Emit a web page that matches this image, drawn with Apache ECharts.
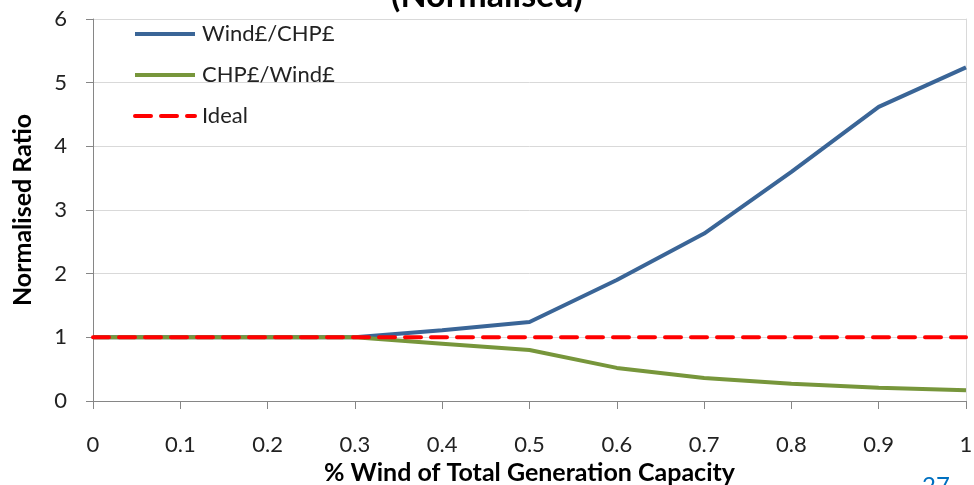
<!DOCTYPE html>
<html>
<head>
<meta charset="utf-8">
<script src="https://cdn.jsdelivr.net/npm/echarts@6/dist/echarts.min.js"></script>
<style>
html,body{margin:0;padding:0;background:#fff;}
#c{width:974px;height:485px;}
</style>
</head>
<body>
<div id="c"></div>
<script>
const xValues = [0, 0.1, 0.2, 0.3, 0.4, 0.5, 0.6, 0.7, 0.8, 0.9, 1];
const windOverChp = [1, 1, 1, 1, 1.11, 1.24, 1.9, 2.63, 3.6, 4.62, 5.24];
const chpOverWind = [1, 1, 1, 1, 0.9, 0.8, 0.52, 0.36, 0.27, 0.21, 0.17];
const ideal = [1, 1, 1, 1, 1, 1, 1, 1, 1, 1, 1];
const seriesNames = ['Wind£/CHP£', 'CHP£/Wind£', 'Ideal'];

const font = 'Lato, "Open Sans", "Liberation Sans", sans-serif';
const pair = (ys) => xValues.map((x, i) => [x, ys[i]]);

const chart = echarts.init(document.getElementById('c'), null, {renderer: 'canvas'});
chart.setOption({
  animation: false,
  backgroundColor: '#fff',
  textStyle: {fontFamily: font},
  title: {
    text: '(Normalised)',
    left: 'center',
    top: -26,
    textStyle: {fontFamily: font, fontSize: 34, fontWeight: 'bold', color: '#000'}
  },
  grid: {left: 93, right: 8, top: 19, bottom: 84, containLabel: false, outerBoundsMode: 'none'},
  legend: {
    orient: 'vertical',
    left: 128,
    top: 18,
    itemWidth: 60,
    itemHeight: 14,
    itemGap: 19,
    data: seriesNames,
    itemStyle: {opacity: 0},
    lineStyle: {width: 4},
    textStyle: {fontFamily: font, fontSize: 22, color: '#222', padding: [0, 0, 0, 2]}
  },
  xAxis: {
    type: 'value',
    min: 0, max: 1, interval: 0.1,
    name: '% Wind of Total Generation Capacity',
    nameLocation: 'middle',
    nameGap: 58,
    nameTextStyle: {fontFamily: font, fontSize: 25, fontWeight: 'bold', color: '#000'},
    axisLine: {show: true, lineStyle: {color: '#868686', width: 1}},
    axisTick: {show: true, length: 8, lineStyle: {color: '#868686'}},
    axisLabel: {
      fontFamily: font, fontSize: 22, color: '#222', margin: 33,
      formatter: (v) => String(Math.round(v * 10) / 10)
    },
    splitLine: {show: false}
  },
  yAxis: [{
    type: 'value',
    min: 0, max: 6, interval: 1,
    name: 'Normalised Ratio',
    nameLocation: 'middle',
    nameGap: 58,
    nameTextStyle: {fontFamily: font, fontSize: 25, fontWeight: 'bold', color: '#000'},
    axisLine: {show: true, lineStyle: {color: '#868686', width: 1}},
    axisTick: {show: true, length: 7, lineStyle: {color: '#868686'}},
    axisLabel: {fontFamily: font, fontSize: 22, color: '#222', margin: 26},
    splitLine: {show: true, lineStyle: {color: '#D9D9D9', width: 1}}
  }, {
    type: 'value',
    position: 'right',
    min: 0, max: 6, interval: 1,
    axisLine: {show: true, lineStyle: {color: '#D9D9D9', width: 1}},
    axisTick: {show: false},
    axisLabel: {show: false},
    splitLine: {show: false}
  }],
  series: [{
    name: seriesNames[0],
    type: 'line',
    data: pair(windOverChp),
    symbol: 'none',
    z: 3,
    itemStyle: {color: '#3A6597'},
    lineStyle: {color: '#3A6597', width: 4}
  }, {
    name: seriesNames[1],
    type: 'line',
    data: pair(chpOverWind),
    symbol: 'none',
    z: 4,
    itemStyle: {color: '#77963B'},
    lineStyle: {color: '#77963B', width: 4}
  }, {
    name: seriesNames[2],
    type: 'line',
    data: pair(ideal),
    symbol: 'none',
    z: 5,
    itemStyle: {color: '#FF0000'},
    lineStyle: {color: '#FF0000', width: 4, type: [16, 10], cap: 'round'}
  }],
  graphic: [{
    type: 'text',
    left: 922,
    top: 474,
    style: {text: '27', font: '24px ' + font, fill: '#0070C0'}
  }]
});
</script>
</body>
</html>
